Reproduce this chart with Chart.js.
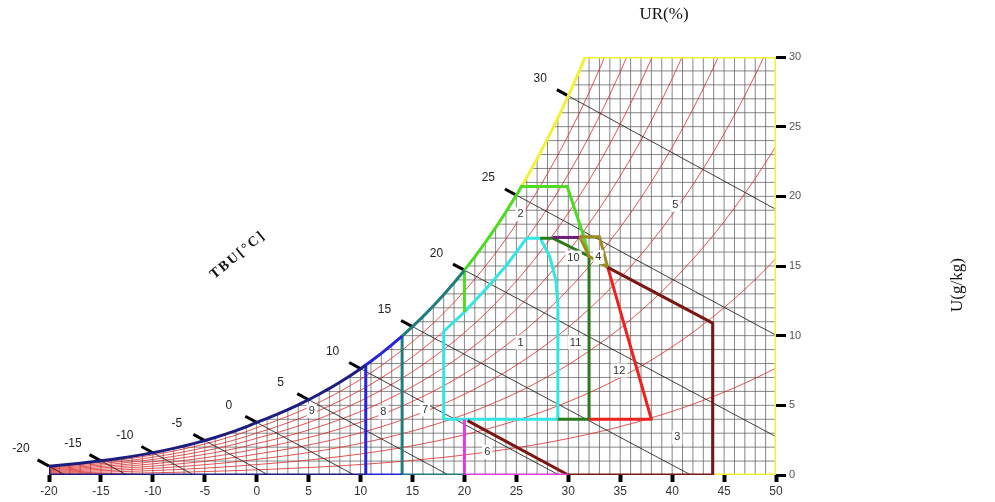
<!DOCTYPE html>
<html>
<head>
<meta charset="utf-8">
<title>Carta bioclimática</title>
<script src="https://cdn.jsdelivr.net/npm/chart.js@4.4.0/dist/chart.umd.min.js"></script>
<style>
  html, body { margin: 0; padding: 0; background: #fff; }
  #carta { display: block; }
</style>
</head>
<body>
<canvas id="carta" width="995" height="502"></canvas>
<script>

var PATM = 101.325;

// Pressão de vapor saturado (kPa) de -20 a 50 °C, de grau em grau
var pvsTabela = [
    0.1033, 0.1136, 0.1249, 0.1371, 0.1505, 0.1652, 0.1811, 0.1984, 0.2172, 0.2376,
    0.2599, 0.2839, 0.3100, 0.3382, 0.3686, 0.4015, 0.4370, 0.4752, 0.5164, 0.5608,
    0.6112, 0.6571, 0.7060, 0.7581, 0.8135, 0.8726, 0.9354, 1.0021, 1.0730, 1.1483,
    1.2282, 1.3129, 1.4028, 1.4981, 1.5989, 1.7057, 1.8188, 1.9383, 2.0647, 2.1982,
    2.3392, 2.4881, 2.6452, 2.8109, 2.9856, 3.1697, 3.3637, 3.5679, 3.7828, 4.0089,
    4.2467, 4.4966, 4.7592, 5.0351, 5.3247, 5.6286, 5.9475, 6.2818, 6.6324, 6.9997,
    7.3844, 7.7873, 8.2090, 8.6503, 9.1118, 9.5944, 10.0988, 10.6259, 11.1764, 11.7512,
    12.3513
];

// Curvas de umidade relativa (%)
var niveisUR = [10, 20, 30, 40, 50, 60, 70, 80, 90];

// Linhas de temperatura de bulbo úmido: valor e ponto final de cada uma
var tbuValores = [-20, -15, -10, -5, 0, 5, 10, 15, 20, 25, 30];
var tbuFimT = [-18.45, -12.5, -6.05, 1.13, 9.39, 18.47, 29.1, 41.8, 50, 50, 50];
var tbuFimU = [0, 0, 0, 0, 0, 0, 0, 0, 2.75, 10.03, 19.06];

// Marcas dos eixos
var ticksTBS = [-20, -15, -10, -5, 0, 5, 10, 15, 20, 25, 30, 35, 40, 45, 50];
var ticksU = [0, 5, 10, 15, 20, 25, 30];

// Zonas (pontos em [TBS, U])
var zona1 = [[18, 4], [18, 10.3], [20, 11.7], [22, 13.3], [24, 15.0], [26, 17.0], [27.3, 17.0],
             [28.2, 15.7], [28.8, 14.0], [29, 12.2], [29, 4], [18, 4]];
var zona2Base = [20, 11.7];
var zona2Topo = [[25.45, 20.7], [29.9, 20.7], [31.5, 17.1], [31.9, 16.0]];
var zona11 = [[27.3, 17.0], [28.5, 17.0], [32, 15.7], [32, 4], [29, 4]];
var zona10 = [[28.5, 17.05], [31.1, 17.05]];
var zona4 = [[31.1, 17.1], [33.0, 17.1], [33.8, 14.9], [32, 15.7], [31.1, 17.1]];
var zona12 = [[33.8, 14.9], [38, 4], [32, 4]];
var zona3 = [[33.8, 14.9], [43.9, 10.9], [43.9, 0], [30, 0], [20.3, 3.9]];
var zona6 = [[20, 3.9], [20, 0], [30, 0]];
var zona5Resto = [[50, 30], [50, 0], [43.9, 0]];

// Números das zonas
var zonaNomes = ["1", "2", "3", "4", "5", "6", "7", "8", "9", "10", "11", "12"];
var zonaT = [25.4, 25.4, 40.5, 32.9, 40.3, 22.2, 16.2, 12.2, 5.3, 30.5, 30.7, 34.9];
var zonaU = [9.5, 18.7, 2.7, 15.65, 19.4, 1.65, 4.7, 4.5, 4.6, 15.6, 9.5, 7.5];


function pvs(t) {
    var i = Math.floor(t + 20);
    if (i < 0) i = 0;
    if (i > pvsTabela.length - 2) i = pvsTabela.length - 2;
    var f = t + 20 - i;
    return pvsTabela[i] + (pvsTabela[i + 1] - pvsTabela[i]) * f;
}

// umidade absoluta (g/kg) para uma TBS e uma UR
function umidade(t, ur) {
    var p = pvs(t) * ur / 100;
    return 622 * p / (PATM - p);
}

// TBS em que a curva de saturação atinge a umidade u
function tSat(u) {
    var a = -20, b = 50;
    for (var k = 0; k < 40; k++) {
        var m = (a + b) / 2;
        if (umidade(m, 100) < u) a = m; else b = m;
    }
    return (a + b) / 2;
}

function curvaSat(t1, t2) {
    var pts = [[t1, umidade(t1, 100)]];
    for (var t = Math.floor(t1) + 1; t < t2; t++) pts.push([t, umidade(t, 100)]);
    pts.push([t2, umidade(t2, 100)]);
    return pts;
}

function xy(lista) {
    return lista.map(function (p) { return { x: p[0], y: p[1] }; });
}

// grade: verticais de 1 °C e horizontais de 1 g/kg, limitadas pela saturação
var grade = [];
for (var t = -20; t <= 50; t++) {
    grade.push({ x: t, y: 0 }, { x: t, y: Math.min(umidade(t, 100), 30) }, { x: t, y: null });
}
for (var u = 1; u < 30; u++) {
    grade.push({ x: tSat(u), y: u }, { x: 50, y: u }, { x: 50, y: null });
}

var datasets = [];

function linha(dados, cor, largura, ordem, extra) {
    var ds = {
        data: dados,
        borderColor: cor,
        borderWidth: largura,
        showLine: true,
        pointRadius: 0,
        fill: false,
        spanGaps: false,
        order: ordem,
        borderJoinStyle: "round"
    };
    for (var k in extra || {}) ds[k] = extra[k];
    datasets.push(ds);
}

// zonas por cima de tudo
var uTopo = tSat(30);
linha(xy([[10.5, 0], [-20, 0]].concat(curvaSat(-20, 10.5))), "#1d1d80", 3, 1);
linha(xy([[14, 0], [10.5, 0]].concat(curvaSat(10.5, 14))), "#2424dc", 3, 1);
linha(xy([[20, 0], [14, 0]].concat(curvaSat(14, 20))), "#1f7d7d", 3, 1);
linha(xy(zona6), "#e03ce0", 3, 1);
linha(xy(zona3), "#7a1712", 3, 1);
linha(xy(zona12), "#f02020", 3, 1);
linha(xy(zona4), "#9c8c22", 3, 1);
linha(xy(zona10), "#6a1f7a", 3, 1);
linha(xy(zona11), "#2a7a1c", 3, 1);
linha(xy([zona2Base].concat(curvaSat(20, 25.45)).concat(zona2Topo)), "#4ddc22", 3, 1);
linha(xy(curvaSat(25.45, uTopo).concat(zona5Resto)), "#f4f03a", 3, 1);
linha(xy(zona1), "#33e6e6", 3, 1);

// linhas de bulbo úmido e suas marcas
tbuValores.forEach(function (tb, i) {
    var u0 = umidade(tb, 100);
    linha([{ x: tb, y: u0 }, { x: tbuFimT[i], y: tbuFimU[i] }], "rgba(30,30,30,0.85)", 1, 2);
    var incl = (tbuFimU[i] - u0) / (tbuFimT[i] - tb);
    linha([{ x: tb - 1.1, y: u0 - 1.1 * incl }, { x: tb, y: u0 }], "#000", 3, 2, { clip: false });
});

// curvas de umidade relativa
niveisUR.forEach(function (ur) {
    var pts = [];
    for (var t = -20; t <= 50; t++) pts.push({ x: t, y: umidade(t, ur) });
    linha(pts, "rgba(222,40,40,0.8)", 1, 3);
});

linha(grade, "rgba(95,95,95,0.75)", 1, 4);


var pluginTextos = {
    id: "textos",
    afterDatasetsDraw: function (chart) {
        var ctx = chart.ctx;
        var sx = chart.scales.x, sy = chart.scales.y;
        ctx.save();
        ctx.textAlign = "center";
        ctx.textBaseline = "middle";

        // valores de TBU junto à curva de saturação
        ctx.font = "12px Arial, 'Liberation Sans', sans-serif";
        ctx.fillStyle = "#222";
        tbuValores.forEach(function (tb) {
            var px = sx.getPixelForValue(tb), py = sy.getPixelForValue(umidade(tb, 100));
            ctx.fillText(String(tb), px - 28, py - 17);
        });

        // números das zonas com fundo branco
        ctx.font = "11px Arial, 'Liberation Sans', sans-serif";
        zonaNomes.forEach(function (n, i) {
            var px = sx.getPixelForValue(zonaT[i]), py = sy.getPixelForValue(zonaU[i]);
            var w = ctx.measureText(n).width + 4;
            ctx.fillStyle = "#fff";
            ctx.fillRect(px - w / 2, py - 7, w, 14);
            ctx.fillStyle = "#333";
            ctx.fillText(n, px, py);
        });

        // TBU[°C]
        ctx.save();
        ctx.translate(238, 255);
        ctx.rotate(-0.69);
        ctx.font = "bold 14px 'Times New Roman', 'Liberation Serif', serif";
        ctx.letterSpacing = "2px";
        ctx.fillStyle = "#111";
        ctx.fillText("TBU[°C]", 0, 0);
        ctx.restore();

        ctx.font = "17px 'Times New Roman', 'Liberation Serif', serif";
        ctx.fillStyle = "#111";
        ctx.fillText("UR(%)", 664, 15);
        ctx.save();
        ctx.translate(958, 285);
        ctx.rotate(-Math.PI / 2);
        ctx.fillText("U(g/kg)", 0, 0);
        ctx.restore();

        ctx.restore();
    }
};

var config = {
    type: "scatter",
    data: { datasets: datasets },
    options: {
        responsive: false,
        animation: false,
        layout: { padding: { left: 49, right: 179, top: 57, bottom: 0 } },
        plugins: {
            legend: { display: false },
            tooltip: { enabled: false }
        },
        scales: {
            x: {
                type: "linear",
                position: "bottom",
                min: -20,
                max: 50,
                afterBuildTicks: function (scale) {
                    scale.ticks = ticksTBS.map(function (v) { return { value: v }; });
                },
                afterFit: function (scale) { scale.height = 27; },
                grid: { drawOnChartArea: false, drawTicks: true, tickLength: 7, tickWidth: 4, tickColor: "#000" },
                border: { display: false },
                ticks: {
                    color: "#333",
                    padding: 2,
                    maxRotation: 0,
                    font: { family: "Arial, 'Liberation Sans', sans-serif", size: 12 }
                }
            },
            y: {
                type: "linear",
                position: "right",
                min: 0,
                max: 30,
                afterBuildTicks: function (scale) {
                    scale.ticks = ticksU.map(function (v) { return { value: v }; });
                },
                afterFit: function (scale) { scale.width = 40; },
                grid: { drawOnChartArea: false, drawTicks: true, tickLength: 10, tickWidth: 3, tickColor: "#000" },
                border: { display: false },
                ticks: {
                    color: "#555",
                    padding: 3,
                    font: { family: "Arial, 'Liberation Sans', sans-serif", size: 11 }
                }
            }
        }
    },
    plugins: [pluginTextos]
};

var carta = new Chart(document.getElementById("carta"), config);
</script>
</body>
</html>
